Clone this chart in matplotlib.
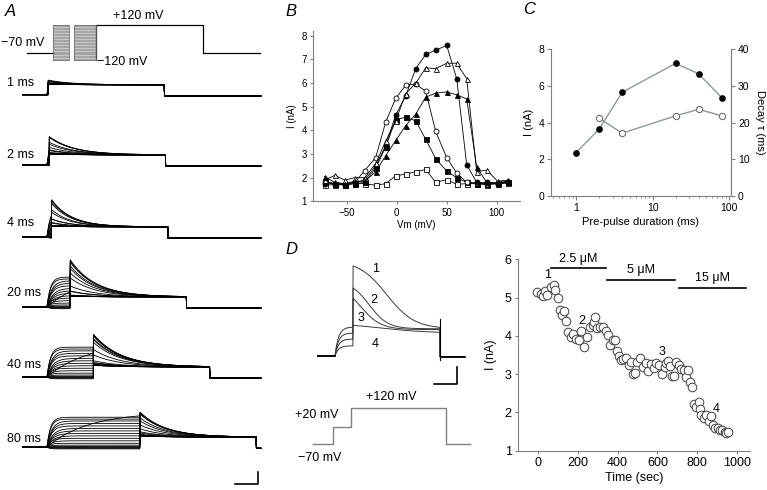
import numpy as np
import matplotlib.pyplot as plt
from matplotlib.ticker import NullFormatter

plt.rcParams['font.family'] = ['Liberation Sans', 'DejaVu Sans']

# ---- panel B: peak current vs pre-pulse voltage, one series per pre-pulse duration
B_VM = [-72, -62, -52, -42, -32, -21, -11, -1, 9, 19, 29, 39, 50, 60, 70, 80, 90, 101, 111]
B_1MS = [1.70, 1.70, 1.70, 1.75, 1.75, 1.68, 1.75, 2.08, 2.15, 2.25, 2.35, 1.80, 1.92, 1.72, 1.75, 1.75, 1.70, 1.75, 1.78]
B_2MS = [1.85, 1.75, 1.70, 1.75, 1.80, 2.40, 3.30, 4.45, 4.55, 4.40, 3.62, 2.80, 2.28, 2.00, 1.80, 1.75, 1.75, 1.78, 1.80]
B_4MS = [1.80, 1.75, 1.75, 1.80, 2.30, 2.85, 4.35, 5.35, 5.90, 5.95, 5.65, 3.95, 2.85, 2.20, 1.80, 1.78, 1.75, 1.75, 1.80]
B_20MS = [1.75, 1.75, 1.70, 1.80, 1.90, 2.50, 3.35, 4.65, 5.45, 6.60, 7.20, 7.38, 7.58, 6.18, 2.55, 1.80, 1.80, 1.75, 1.80]
B_40MS = [1.90, 2.10, 1.90, 2.00, 2.00, 2.60, 3.55, 4.40, 5.55, 5.98, 6.64, 6.60, 6.83, 6.83, 6.18, 2.25, 2.32, 1.85, 1.90]
B_80MS = [2.05, 1.80, 1.75, 1.85, 1.85, 2.25, 2.93, 3.57, 4.20, 4.68, 5.40, 5.57, 5.62, 5.50, 5.32, 2.45, 1.80, 1.80, 1.85]

# ---- panel A: pre-pulse durations, current reached during the pre-pulse at each voltage
A_DUR = [1, 2, 4, 20, 40, 80]
A_PEAKS = [B_1MS, B_2MS, B_4MS, B_20MS, B_40MS, B_80MS]
A_TAU = [20.0, 21.2, 17.1, 21.8, 23.6, 21.8]
A_PRE_LEVEL = [-0.3, -0.2, -0.1, 0.0, 0.1, 0.3, 0.6, 1.0, 1.4, 1.8, 2.2, 5.6, 2.6, 3.0, 3.4, 3.8, 4.2, 4.5, 4.8]
A_PRE_TAU = [2, 2, 2, 2, 2, 3, 3, 4, 4, 5, 5, 35, 5, 5, 4, 4, 4, 3, 3]
A_LABELS = ['1 ms', '2 ms', '4 ms', '20 ms', '40 ms', '80 ms']

# ---- panel C
C_DUR = [1, 2, 4, 20, 40, 80]
C_PEAK = [2.36, 3.64, 5.64, 7.22, 6.65, 5.36]
C_TAU_DUR = [2, 4, 20, 40, 80]
C_TAU = [21.2, 17.1, 21.8, 23.6, 21.8]

# ---- panel D, traces
D_LABELS = ['1', '2', '3', '4']
D_PEAK = [5.3, 4.0, 3.4, 1.8]
D_PRE = [1.7, 1.35, 1.0, 0.6]
D_STEADY = [1.6, 1.6, 1.55, 1.35]
D_HALF = [29.0, 14.0, 6.0, 25.0]
D_SLOPE = [12.0, 8.0, 9.0, 20.0]

# ---- panel D, time course
D_TIME = [-3, 13, 28, 38, 47, 64, 79, 84, 100, 109, 120, 131, 142, 151, 164, 176, 193, 204,
          218, 229, 248, 260, 276, 283, 288, 298, 313, 327, 340, 352, 363, 377, 389, 397,
          407, 415, 427, 444, 456, 469, 477, 486, 499, 511, 528, 544, 553, 569, 581, 595,
          608, 623, 636, 645, 653, 665, 673, 683, 695, 707, 720, 732, 742, 754, 762, 776,
          784, 796, 807, 812, 821, 832, 846, 857, 867, 879, 891, 904, 913, 925, 938, 946, 955]
D_CURR = [5.15, 5.10, 5.05, 5.18, 5.07, 5.27, 5.33, 5.20, 5.00, 4.68, 4.55, 4.65, 4.40, 4.10,
          3.98, 4.06, 3.93, 3.89, 4.13, 3.70, 3.97, 4.23, 4.29, 4.37, 4.50, 4.20, 4.22, 4.22,
          4.13, 4.01, 3.77, 3.88, 3.90, 3.61, 3.48, 3.37, 3.40, 3.42, 3.23, 3.31, 3.00, 3.04,
          3.31, 3.42, 3.18, 3.29, 3.08, 3.27, 3.17, 3.30, 3.23, 3.00, 3.18, 3.29, 3.35, 3.20,
          2.96, 2.96, 3.33, 3.25, 3.14, 3.10, 2.92, 3.10, 2.80, 2.67, 2.22, 2.15, 2.28, 2.08,
          1.94, 1.86, 1.94, 1.77, 1.90, 1.68, 1.60, 1.60, 1.55, 1.55, 1.50, 1.45, 1.50]
D_CONC = ['2.5 μM', '5 μM', '15 μM']
D_CONC_START = [67, 347, 707]
D_CONC_END = [341, 687, 1047]
D_CONC_LEVEL = [5.76, 5.47, 5.26]
D_MARK_T = [50, 218, 623, 896]
D_MARK_I = [5.59, 4.39, 3.57, 2.08]

W, H = 767, 490
fig = plt.figure(figsize=(7.67, 4.9), dpi=100)


def px_axes(x0, y0, x1, y1):
    return fig.add_axes([x0 / W, 1 - y1 / H, (x1 - x0) / W, (y1 - y0) / H])


def px_text(x, y, s, **kw):
    kw.setdefault('va', 'center')
    fig.text(x / W, 1 - y / H, s, **kw)


def style_axes(ax, fs):
    for s in ['top', 'right']:
        ax.spines[s].set_visible(False)
    for s in ['left', 'bottom']:
        ax.spines[s].set_color('#808080')
        ax.spines[s].set_linewidth(0.8)
    ax.tick_params(direction='out', length=2.5, width=0.8, color='#808080',
                   labelsize=fs, pad=2)


# ================= panel A =================
px_text(5, 12, 'A', fontsize=12, style='italic')

# protocol
ap = px_axes(25, 18, 262, 68)
ap.set_axis_off()
ap.set_xlim(-24.1, 179.6)
ap.set_ylim(-172, 168)
ap.plot([-22, 0], [-70, -70], color='k', lw=0.9)
ap.plot([37, 37, 129, 129, 178], [-120, 120, 120, -70, -70], color='k', lw=0.9)
for t0, t1 in [(0, 13.8), (18.0, 37)]:
    ap.fill_between([t0, t1], -120, 120, color='#c8c8c8', lw=0)
    for v in B_VM + [-120, -110, -100, -90, -80, 120]:
        ap.plot([t0, t1], [v, v], color='#8a8a8a', lw=0.4)
    ap.plot([t0, t0, t1, t1, t0], [-120, 120, 120, -120, -120], color='#666666', lw=0.5)
px_text(1, 43, '−70 mV', fontsize=9)
px_text(113, 16, '+120 mV', fontsize=9)
px_text(97, 62, '−120 mV', fontsize=9)

# current families
aa = px_axes(20, 55, 262, 490)
aa.set_axis_off()
aa.set_xlim(-23.2, 184.8)
aa.set_ylim(-4.03, 66.1)
a_offsets = [59.7, 48.4, 36.8, 25.5, 14.2, 2.9]
a_label_y = [83, 155, 223, 293, 365, 439]
t = np.arange(-21, 184, 0.25)
for d, peaks, tau, off, lab, ly in zip(A_DUR, A_PEAKS, A_TAU, a_offsets, A_LABELS, a_label_y):
    for lev, tact, pk in zip(A_PRE_LEVEL, A_PRE_TAU, peaks):
        cur = np.zeros_like(t)
        pre = (t >= 0) & (t < d)
        cur[pre] = lev * (1 - np.exp(-t[pre] / tact))
        tst = (t >= d) & (t < d + 100)
        cur[tst] = 1.6 + (pk - 1.6) * np.exp(-(t[tst] - d) / tau)
        cur[t >= d + 100] = -0.2
        aa.plot(t, cur + off, color='k', lw=0.6)
    px_text(7, ly, lab, fontsize=9)
# scale bar
aa.plot([161.6, 181.4, 181.4], [-3.06, -3.06, -1.06], color='k', lw=1.2)

# ================= panel B =================
px_text(285, 11, 'B', fontsize=12, style='italic')
ab = px_axes(313, 31, 520, 201.4)
style_axes(ab, 7)
ab.set_xlim(-83.7, 123.3)
ab.set_ylim(1, 8.19)
ab.set_xticks([-50, 0, 50, 100])
ab.set_yticks([1, 2, 3, 4, 5, 6, 7, 8])
b_series = [(B_1MS, 's', 'white'), (B_2MS, 's', 'k'), (B_4MS, 'o', 'white'),
            (B_20MS, 'o', 'k'), (B_40MS, '^', 'white'), (B_80MS, '^', 'k')]
for ys, mk, fc in b_series:
    ab.plot(B_VM, ys, color='k', lw=0.6, marker=mk, ms=3.6, mfc=fc, mec='k', mew=0.6,
            clip_on=False)
ab.set_xlabel('Vm (mV)', fontsize=7, labelpad=2)
ab.set_ylabel('I (nA)', fontsize=7, labelpad=3)

# ================= panel C =================
px_text(523, 10, 'C', fontsize=12, style='italic')
ac = px_axes(551, 49, 731, 196)
ac.set_xscale('log')
ac.set_ylim(0, 8)
ac.spines['top'].set_visible(False)
for s in ['left', 'bottom', 'right']:
    ac.spines[s].set_color('#808080')
    ac.spines[s].set_linewidth(0.8)
ac.plot(C_DUR, C_PEAK, color='#8c9a9a', lw=1.0, marker='o', ms=3.8, mfc='k', mec='k',
        clip_on=False)
ac.set_xlabel('Pre-pulse duration (ms)', fontsize=8, labelpad=3)
ac.set_ylabel('I (nA)', fontsize=8, labelpad=3)
ac.set_yticks([0, 2, 4, 6, 8])
ac2 = ac.twinx()
ac2.set_ylim(0, 40)
for s in ['top', 'left', 'bottom']:
    ac2.spines[s].set_visible(False)
ac2.spines['right'].set_color('#808080')
ac2.spines['right'].set_linewidth(0.8)
ac2.tick_params(direction='out', length=3, color='#808080', labelsize=7.5, pad=2)
ac2.set_yticks([0, 10, 20, 30, 40])
ac2.plot(C_TAU_DUR, C_TAU, color='#8c9a9a', lw=1.0, marker='o', ms=4.5, mfc='white',
         mec='#707070', mew=0.8, clip_on=False)
ac2.set_ylabel('Decay τ (ms)', fontsize=8, rotation=270, labelpad=11)
ac.set_xlim(0.47, 106)
ac.set_xticks([1, 10, 100])
ac.set_xticklabels(['1', '10', '100'])
ac.xaxis.set_minor_formatter(NullFormatter())
ac.tick_params(which='both', direction='out', color='#808080', labelsize=7.5, pad=2)
ac.tick_params(which='major', length=3)
ac.tick_params(which='minor', length=1.5)

# ================= panel D traces =================
px_text(285, 249, 'D', fontsize=12, style='italic')
ad = px_axes(310, 255, 470, 392)
ad.set_axis_off()
ad.set_xlim(-21.55, 116.4)
ad.set_ylim(-2.12, 5.94)
td = np.arange(-15, 112, 0.2)
for pk, lev, st, half, slope in zip(D_PEAK, D_PRE, D_STEADY, D_HALF, D_SLOPE):
    cur = np.zeros_like(td)
    pre = (td >= 0) & (td < 15.5)
    cur[pre] = lev * (1 - np.exp(-td[pre] / 3.0))
    tst = (td >= 15.5) & (td < 90.5)
    f = 1 / (1 + np.exp((td[tst] - 15.5 - half) / slope))
    f0 = 1 / (1 + np.exp(-half / slope))
    cur[tst] = st + (pk - st) * f / f0
    cur[td >= 90.5] = -0.05
    ad.plot(td, cur, color='#3a3a3a', lw=0.7)
ad.plot([90.5, 90.5], [2.2, -0.25], color='k', lw=0.8)
ad.plot([-15, 0], [0, 0], color='k', lw=1.2)
ad.plot([91, 112], [-0.05, -0.05], color='k', lw=1.2)
for lab, x, y in zip(D_LABELS, [372, 370, 358, 372], [269, 300, 318, 344]):
    px_text(x, y, lab, fontsize=9)
ad.plot([85.3, 105.2, 105.2], [-1.65, -1.65, -0.65], color='k', lw=1.2)

# protocol D
adp = px_axes(310, 398, 475, 452)
adp.set_axis_off()
adp.set_xlim(-21.55, 120.7)
adp.set_ylim(-112, 173)
adp.plot([-19, -2, -2, 14, 14, 96, 96, 116], [-70, -70, 20, 20, 120, 120, -70, -70],
         color='#808080', lw=1.0)
px_text(295, 415, '+20 mV', fontsize=9)
px_text(366, 397, '+120 mV', fontsize=9)
px_text(298, 458, '−70 mV', fontsize=9)

# ================= panel D time course =================
ae = px_axes(518, 259.3, 750, 450.7)
style_axes(ae, 9)
ae.set_xlim(-100, 1065)
ae.set_ylim(1, 6)
ae.set_xticks([0, 200, 400, 600, 800, 1000])
ae.set_yticks([1, 2, 3, 4, 5, 6])
ae.plot(D_TIME, D_CURR, ls='none', marker='o', ms=6.2, mfc='white', mec='#404040',
        mew=0.7, clip_on=False)
for lab, t0, t1, lv in zip(D_CONC, D_CONC_START, D_CONC_END, D_CONC_LEVEL):
    ae.plot([t0, t1], [lv, lv], color='k', lw=1.2, clip_on=False)
    ae.text((t0 + t1) / 2, lv + 0.1, lab, fontsize=9, ha='center', va='bottom', clip_on=False)
for lab, x, y in zip(D_LABELS, D_MARK_T, D_MARK_I):
    ae.text(x, y, lab, fontsize=9, ha='center', va='center')
ae.set_xlabel('Time (sec)', fontsize=9, labelpad=2)
ae.set_ylabel('I (nA)', fontsize=9)
ae.yaxis.set_label_coords(-0.09, 0.5)

fig.savefig('out.png', dpi=100)
